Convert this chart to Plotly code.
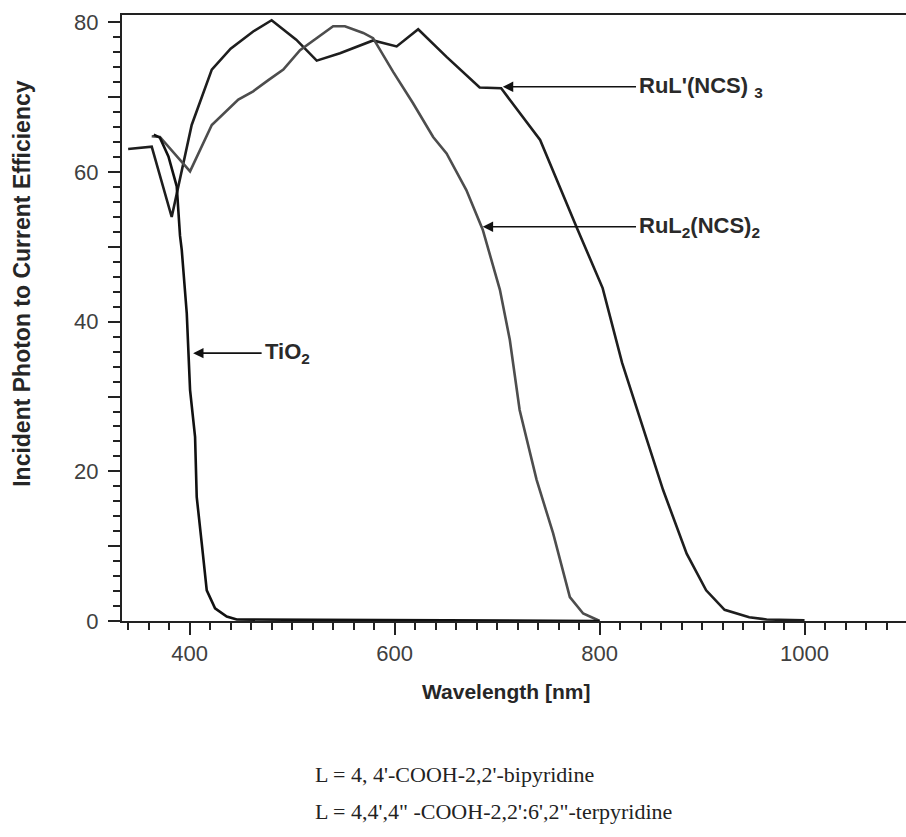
import plotly.graph_objects as go

# RuL'(NCS)3 (black)
rul3_x = [340, 363, 382.5, 402, 421.6, 440, 462, 480, 504, 524, 546.7, 579, 602, 623, 650.7, 683, 704,
          742, 778, 803, 822, 842, 862, 885, 904, 922, 946, 963, 1000]
rul3_y = [63.1, 63.4, 54.0, 66.3, 73.7, 76.5, 78.8, 80.3, 77.7, 74.9, 75.9, 77.6, 76.8, 79.1, 75.4, 71.3, 71.2,
          64.3, 52.5, 44.5, 34.5, 26.0, 17.5, 9.0, 4.1, 1.5, 0.5, 0.2, 0.1]

# RuL2(NCS)2 (gray)
rul2_x = [363, 371, 400.4, 421.6, 447.5, 462, 476.8, 491.4, 507.7, 524, 540, 551.5, 569.4, 579, 598.6,
          618, 637.6, 650.7, 670, 686, 702.7, 712.4, 722, 738.5, 754.7, 771, 784, 797, 800]
rul2_y = [64.8, 64.7, 60.1, 66.3, 69.7, 70.8, 72.3, 73.7, 76.3, 77.9, 79.5, 79.5, 78.6, 77.9, 73.4,
          69.2, 64.7, 62.5, 57.6, 52.3, 44.3, 37.6, 28.2, 18.9, 11.7, 3.2, 1.0, 0.2, 0.0]

# TiO2 (black)
tio2_x = [365, 371, 379.3, 387.4, 390.6, 392.3, 397.2, 400.4, 405.3, 406.9, 411.8, 416.7, 424.8, 436.2, 446, 800]
tio2_y = [65.0, 64.6, 62.1, 58.1, 51.5, 49.6, 41.1, 30.9, 24.6, 16.6, 10.4, 4.1, 1.7, 0.6, 0.2, 0.0]

x_major = [400, 600, 800, 1000]
y_major = [0, 10, 20, 30, 40, 50, 60, 70, 80]
y_labels = ["0", "", "20", "", "40", "", "60", "", "80"]

fig = go.Figure()
fig.add_trace(go.Scatter(x=rul3_x, y=rul3_y, mode="lines", line=dict(color="#1e1e1e", width=2.6)))
fig.add_trace(go.Scatter(x=rul2_x, y=rul2_y, mode="lines", line=dict(color="#4d4d4d", width=2.6)))
fig.add_trace(go.Scatter(x=tio2_x, y=tio2_y, mode="lines", line=dict(color="#111111", width=2.6)))

tick_font = dict(family="Liberation Sans, Arial, sans-serif", size=22, color="#404040")
title_font = dict(family="Liberation Sans, Arial, sans-serif", size=23, color="#262626")
xtitle_font = dict(family="Liberation Sans, Arial, sans-serif", size=21, color="#262626")

fig.update_layout(
    width=906, height=837, autosize=False,
    margin=dict(l=122, r=0, t=15, b=216),
    paper_bgcolor="white", plot_bgcolor="white",
    showlegend=False,
    xaxis=dict(
        range=[334, 1099], tickvals=x_major, ticks="outside", ticklen=12, tickwidth=2,
        tickcolor="#222", showline=True, linecolor="#222", linewidth=2, mirror=True,
        showgrid=False, zeroline=False, tickfont=tick_font,
        minor=dict(tick0=0, dtick=20, ticks="outside", ticklen=7, tickwidth=1.5, tickcolor="#222"),
    ),
    yaxis=dict(
        range=[0, 81.0], tickvals=y_major, ticktext=y_labels, ticks="outside", ticklen=12, tickwidth=2,
        tickcolor="#222", showline=True, linecolor="#222", linewidth=2,
        showgrid=False, zeroline=False, tickfont=tick_font, ticklabelstandoff=5,
        minor=dict(tick0=0, dtick=2, ticks="outside", ticklen=7, tickwidth=1.5, tickcolor="#222"),
    ),
)

# axis titles
fig.add_annotation(x=0.49, y=-0.117, xref="paper", yref="paper", xanchor="center", yanchor="middle",
                   showarrow=False, text="<b>Wavelength [nm]</b>", font=xtitle_font)
fig.add_annotation(x=-0.1276, y=0.558, xref="paper", yref="paper", xanchor="center", yanchor="middle",
                   showarrow=False, textangle=-90,
                   text="<b>Incident Photon to Current Efficiency</b>", font=title_font)

ann_font = dict(family="Liberation Sans, Arial, sans-serif", size=22, color="#2a2a2a")
arrows = [
    (705.6, 71.4, 837, "<b>RuL'(NCS) <sub>3</sub></b>"),
    (686.0, 52.7, 837, "<b>RuL<sub>2</sub>(NCS)<sub>2</sub></b>"),
    (403.4, 35.8, 471.7, "<b>TiO<sub>2</sub></b>"),
]
for xt, yt, xs, label in arrows:
    fig.add_annotation(x=xt, y=yt, ax=xs, ay=yt, xref="x", yref="y", axref="x", ayref="y",
                       text="", showarrow=True, arrowhead=2, arrowsize=1.3, arrowwidth=1.6,
                       arrowcolor="#111")
    fig.add_annotation(x=xs, y=yt, xref="x", yref="y", text=label, showarrow=False,
                       xanchor="left", yanchor="middle", font=ann_font)

foot_font = dict(family="Liberation Serif, Times New Roman, serif", size=22, color="#222")
fig.add_annotation(x=0.2436, y=-0.254, xref="paper", yref="paper", xanchor="left", yanchor="middle",
                   showarrow=False, text="L = 4, 4'-COOH-2,2'-bipyridine", font=foot_font)
fig.add_annotation(x=0.2436, y=-0.315, xref="paper", yref="paper", xanchor="left", yanchor="middle",
                   showarrow=False, text="L = 4,4',4\" -COOH-2,2':6',2\"-terpyridine", font=foot_font)

fig.write_html("out.html")
